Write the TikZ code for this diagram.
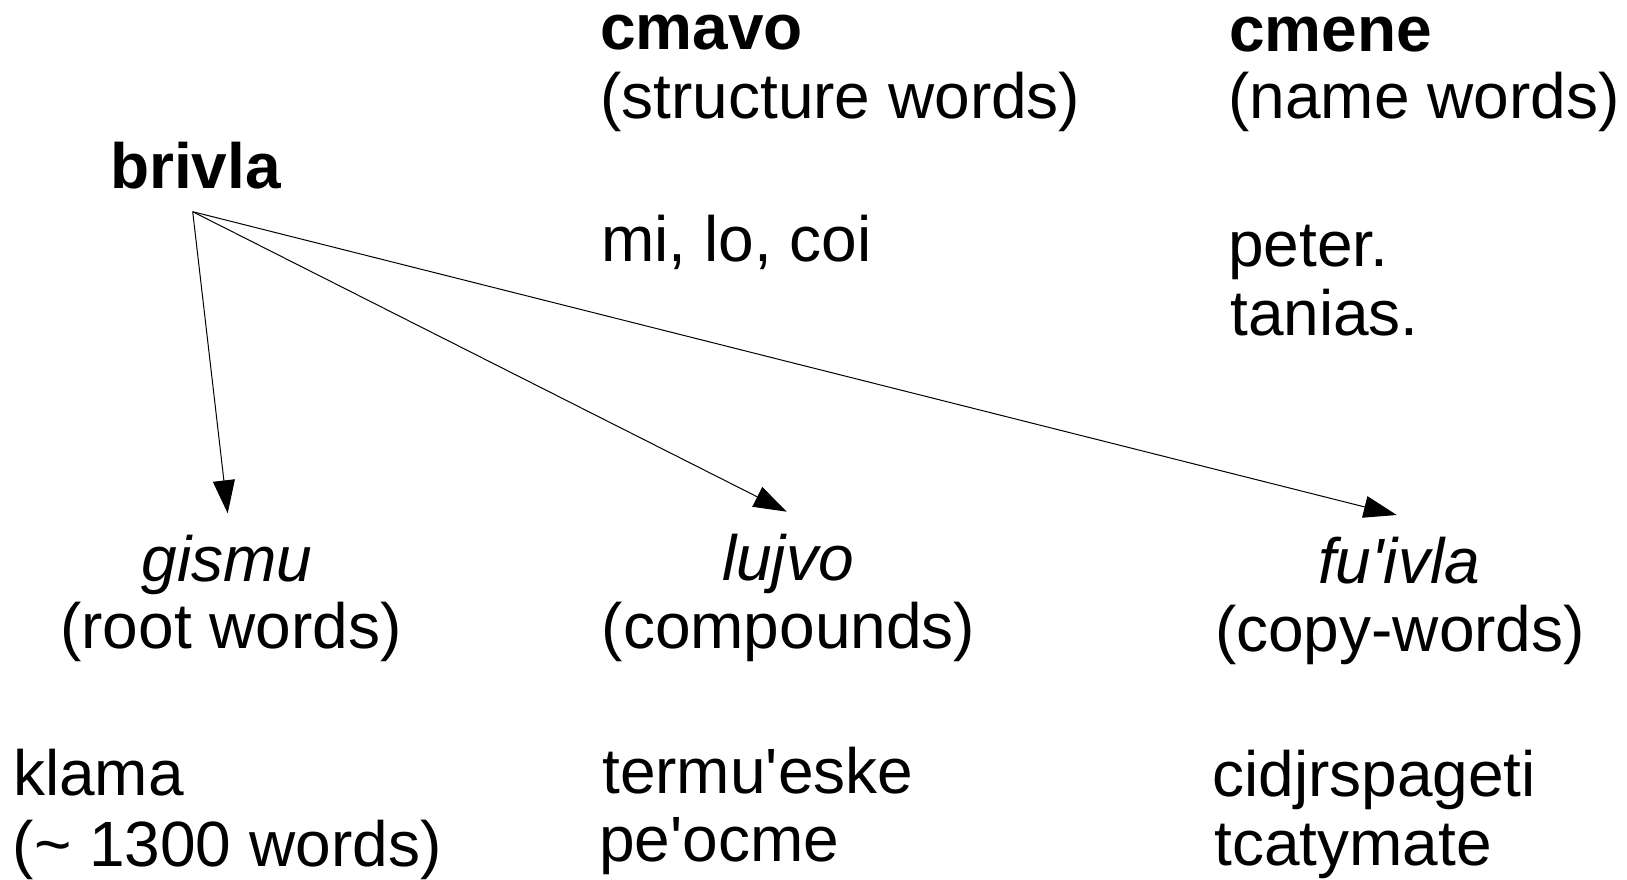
\documentclass[tikz,border=0pt]{standalone}
\usepackage{fontspec}
\setmainfont{Liberation Sans}
\usetikzlibrary{arrows.meta}
\begin{document}
\begin{tikzpicture}[x=1pt,y=-1pt,
  lbl/.style={inner sep=0pt, anchor=base west, font=\fontsize{64}{68.5}\selectfont},
  ctr/.style={inner sep=0pt, anchor=base, font=\fontsize{64}{68.5}\selectfont},
  hd/.style={lbl, font=\fontsize{64}{68.5}\selectfont\bfseries},
  sub/.style={ctr, font=\fontsize{64}{68.5}\selectfont\itshape},
  arr/.style={-{Triangle[length=33pt,width=22pt]}, line width=1pt}]
\useasboundingbox (0,0) rectangle (1627,880);
% top row
\node[hd]  (brivla) at (110,188.3) {brivla};
\node[hd]  (cmavo)  at (600,50) {cmavo};
\node[lbl] (cmavoD) at (600,118.3) {(structure words)};
\node[lbl] (cmavoE) at (601,261.7) {mi, lo, coi};
\node[hd]  (cmene)  at (1229,51.7) {cmene};
\node[lbl] (cmeneD) at (1228,118.3) {(name words)};
\node[lbl] (cmeneE1) at (1228,266.7) {peter.};
\node[lbl] (cmeneE2) at (1230,335) {tanias.};
% bottom row
\node[sub] (gismu)  at (227,581.7) {gismu};
\node[ctr] (gismuD) at (231,648.3) {(root words)};
\node[lbl] (gismuE1) at (13,795) {klama};
\node[lbl] (gismuE2) at (12.6,866.7) {(\textasciitilde{} 1300 words)};
\node[sub] (lujvo)  at (788,580) {lujvo};
\node[ctr] (lujvoD) at (788.5,648.3) {(compounds)};
\node[lbl] (lujvoE1) at (602,793.3) {termu\textquotesingle eske};
\node[lbl] (lujvoE2) at (599,861.7) {pe\textquotesingle ocme};
\node[sub] (fuivla)  at (1399,583.3) {fu\textquotesingle ivla};
\node[ctr] (fuivlaD) at (1400,651.7) {(copy-words)};
\node[lbl] (fuivlaE1) at (1212,796.7) {cidjrspageti};
\node[lbl] (fuivlaE2) at (1214,865) {tcatymate};
% connectors
\coordinate (root) at (192.7,211.7);
\coordinate (tg) at (227.7,513.3);
\coordinate (tl) at (786.7,511.7);
\coordinate (tf) at (1396.7,515);
\draw[arr] (root) -- (tg);
\draw[arr] (root) -- (tl);
\draw[arr] (root) -- (tf);
\end{tikzpicture}
\end{document}
